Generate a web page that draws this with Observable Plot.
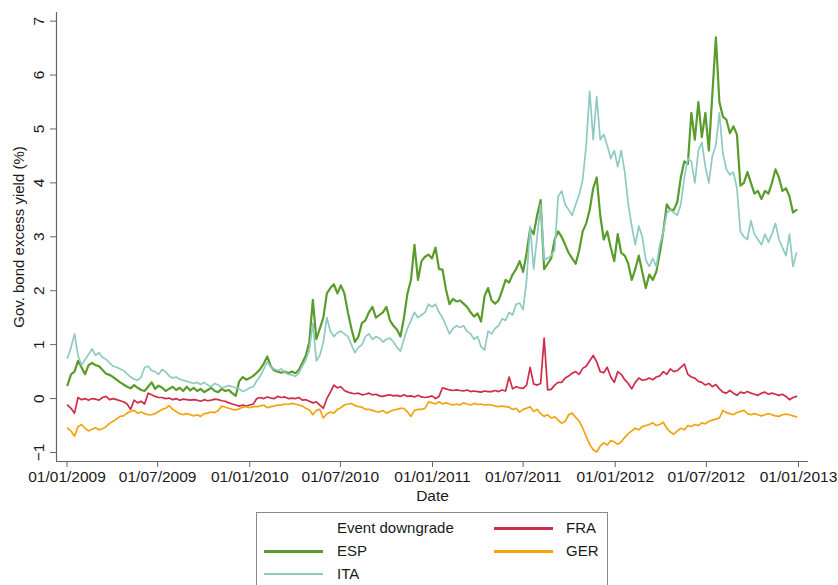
<!DOCTYPE html>
<html><head><meta charset="utf-8">
<script src="https://cdn.jsdelivr.net/npm/d3@7"></script>
<script src="https://cdn.jsdelivr.net/npm/@observablehq/plot@0.6"></script>
<style>
body{margin:0;background:#fff;font-family:"Liberation Sans",Arial,sans-serif;}
#chart{position:relative;width:838px;height:585px;overflow:hidden;background:#fff;}
.legend{position:absolute;left:256px;top:512px;width:352px;height:90px;border:1px solid #8a8a8a;box-sizing:border-box;}
.lab{position:absolute;font-size:15px;color:#1a1a1a;line-height:18px;transform:translateY(-50%);white-space:nowrap;}
.sw{position:absolute;width:59px;}
</style></head><body><div id="chart"></div>
<script>
// weekly observations starting 2009-01-02
const startDate = "2009-01-02";
const stepDays = 7;

const series = ["ESP", "ITA", "FRA", "GER"];
const seriesColors = ["#5a9c2c", "#8ecac0", "#cf2b4a", "#f4a20f"];
const seriesWidths = [2.2, 1.7, 1.7, 1.7];

const ESP = [
0.25,0.45,0.5,0.7,0.58,0.45,0.62,0.66,0.62,0.6,
0.53,0.46,0.44,0.4,0.35,0.3,0.26,0.22,0.19,0.25,
0.2,0.16,0.14,0.22,0.3,0.18,0.24,0.2,0.14,0.18,
0.22,0.16,0.2,0.14,0.22,0.15,0.2,0.14,0.18,0.12,
0.16,0.2,0.14,0.12,0.18,0.14,0.16,0.1,0.05,0.32,
0.4,0.35,0.38,
0.42,0.48,0.55,0.65,0.78,0.6,0.52,0.5,0.48,0.5,
0.47,0.5,0.47,0.53,0.66,0.8,1.05,1.83,1.1,1.3,
1.5,1.95,2.05,2.12,1.95,2.1,1.95,1.6,1.3,1.05,
1.15,1.4,1.45,1.6,1.7,1.5,1.55,1.6,1.7,1.45,
1.35,1.28,1.15,1.5,1.95,2.2,2.85,2.2,2.55,2.63,
2.67,2.6,
2.8,2.4,2.39,2.02,1.75,1.85,1.8,1.82,1.76,1.7,
1.6,1.52,1.58,1.43,1.9,2.05,1.82,1.76,1.82,2.0,
2.2,2.15,2.3,2.4,2.55,2.35,2.7,3.15,3.05,3.4,
3.68,2.4,2.5,2.6,2.95,3.1,3.0,2.85,2.7,2.6,
2.5,2.75,3.1,3.25,3.5,3.9,4.1,3.4,2.95,3.1,
2.8,2.55,
3.05,2.7,2.65,2.5,2.2,2.4,2.65,2.35,2.05,2.3,
2.2,2.35,2.7,3.1,3.6,3.5,3.5,3.65,4.1,4.4,
4.35,5.3,4.8,5.5,4.85,5.3,4.6,5.65,6.7,5.5,
5.23,5.17,4.92,5.05,4.9,3.95,4.0,4.2,4.0,3.8,
3.85,3.7,3.85,3.8,4.0,4.25,4.1,3.85,3.9,3.75,
3.45,3.5
];
const ITA = [
0.75,0.95,1.2,0.8,0.62,0.72,0.82,0.92,0.8,0.85,
0.76,0.73,0.66,0.6,0.58,0.55,0.52,0.46,0.4,0.36,
0.34,0.4,0.58,0.6,0.52,0.5,0.45,0.54,0.5,0.42,
0.38,0.4,0.36,0.34,0.32,0.3,0.28,0.3,0.26,0.3,
0.25,0.22,0.28,0.25,0.2,0.22,0.24,0.22,0.2,0.18,
0.13,0.16,0.2,
0.22,0.33,0.42,0.55,0.68,0.58,0.55,0.52,0.55,0.48,
0.45,0.44,0.41,0.47,0.6,0.72,0.9,1.4,0.7,0.8,
1.05,1.5,1.25,1.15,1.22,1.25,1.2,1.15,1.0,0.85,
0.95,1.0,1.15,1.2,1.1,1.15,1.12,1.05,1.1,1.12,
1.05,0.95,0.88,1.1,1.3,1.45,1.6,1.5,1.55,1.6,
1.75,1.7,
1.75,1.6,1.5,1.35,1.2,1.3,1.35,1.32,1.35,1.25,
1.2,1.1,1.15,0.96,0.9,1.25,1.2,1.3,1.35,1.48,
1.45,1.6,1.55,1.75,1.77,1.65,2.2,3.2,2.4,3.0,
3.6,2.57,2.6,2.65,2.75,3.75,3.85,3.6,3.5,3.4,
3.6,3.78,4.06,4.7,5.7,4.8,5.6,4.8,4.9,4.7,
4.45,4.6,
4.3,4.6,4.2,3.6,3.2,2.85,3.2,3.0,2.57,2.45,
2.6,2.45,2.85,3.1,3.44,3.5,3.45,3.4,3.6,4.1,
4.45,4.4,4.0,4.6,4.75,4.3,4.0,4.5,4.7,5.3,
4.55,4.25,4.15,4.2,3.9,3.1,3.0,2.95,3.3,3.05,
2.95,2.85,3.05,2.9,3.05,3.25,2.95,2.8,2.65,3.05,
2.45,2.7
];
const FRA = [
-0.12,-0.18,-0.27,0.02,-0.02,0.0,-0.03,0.0,-0.01,-0.03,
0.02,0.04,-0.02,0.0,-0.02,-0.04,-0.06,-0.1,-0.2,-0.03,
-0.08,-0.05,-0.1,0.1,0.07,0.04,0.02,0.02,0.0,0.01,
-0.02,0.0,-0.03,-0.01,-0.02,-0.03,-0.02,-0.03,-0.05,-0.02,
-0.04,-0.03,-0.01,-0.02,-0.04,-0.05,-0.08,-0.1,-0.12,-0.14,
-0.12,-0.14,-0.12,
-0.1,0.0,0.02,0.0,0.03,0.01,0.0,0.04,0.02,0.03,
0.0,0.01,0.0,0.02,-0.03,-0.02,-0.05,-0.08,-0.06,-0.12,
-0.18,0.0,0.12,0.25,0.2,0.22,0.15,0.12,0.1,0.09,
0.1,0.07,0.08,0.1,0.07,0.08,0.05,0.04,0.06,0.07,
0.05,0.06,0.04,0.07,0.04,0.05,0.03,0.06,0.03,0.02,
0.03,0.05,
0.0,0.04,0.2,0.18,0.16,0.15,0.16,0.15,0.14,0.16,
0.13,0.14,0.13,0.12,0.14,0.13,0.13,0.15,0.13,0.16,
0.14,0.4,0.18,0.22,0.2,0.19,0.25,0.58,0.27,0.25,
0.28,1.12,0.16,0.17,0.25,0.3,0.3,0.38,0.42,0.47,
0.5,0.45,0.56,0.6,0.7,0.8,0.68,0.5,0.48,0.58,
0.4,0.3,
0.5,0.45,0.35,0.28,0.18,0.3,0.38,0.34,0.35,0.38,
0.35,0.4,0.42,0.5,0.45,0.55,0.5,0.52,0.58,0.64,
0.45,0.4,0.38,0.32,0.3,0.25,0.28,0.22,0.26,0.18,
0.12,0.1,0.15,0.1,0.06,0.12,0.1,0.13,0.1,0.08,
0.06,0.1,0.12,0.08,0.1,0.08,0.06,0.08,0.04,-0.02,
0.02,0.04
];
const GER = [
-0.55,-0.6,-0.7,-0.52,-0.48,-0.55,-0.6,-0.57,-0.54,-0.58,
-0.56,-0.52,-0.46,-0.42,-0.38,-0.33,-0.32,-0.27,-0.24,-0.22,
-0.27,-0.25,-0.28,-0.3,-0.3,-0.28,-0.24,-0.2,-0.18,-0.13,
-0.2,-0.24,-0.28,-0.3,-0.28,-0.3,-0.32,-0.3,-0.33,-0.28,
-0.27,-0.25,-0.26,-0.22,-0.14,-0.16,-0.18,-0.2,-0.21,-0.19,
-0.16,-0.15,-0.17,
-0.15,-0.15,-0.14,-0.12,-0.17,-0.15,-0.14,-0.12,-0.12,-0.1,
-0.11,-0.09,-0.1,-0.12,-0.14,-0.18,-0.21,-0.3,-0.22,-0.2,
-0.36,-0.28,-0.25,-0.27,-0.2,-0.17,-0.12,-0.1,-0.09,-0.13,
-0.15,-0.16,-0.2,-0.2,-0.22,-0.24,-0.25,-0.22,-0.27,-0.24,
-0.21,-0.2,-0.18,-0.18,-0.25,-0.33,-0.22,-0.2,-0.2,-0.18,
-0.06,-0.08,
-0.1,-0.06,-0.1,-0.08,-0.1,-0.12,-0.1,-0.12,-0.08,-0.1,
-0.12,-0.09,-0.11,-0.1,-0.12,-0.11,-0.12,-0.14,-0.15,-0.14,
-0.15,-0.16,-0.2,-0.18,-0.25,-0.2,-0.18,-0.15,-0.24,-0.2,
-0.28,-0.33,-0.3,-0.36,-0.34,-0.4,-0.46,-0.42,-0.3,-0.27,
-0.35,-0.42,-0.55,-0.7,-0.85,-0.95,-0.99,-0.88,-0.82,-0.86,
-0.78,-0.8,
-0.85,-0.8,-0.72,-0.65,-0.6,-0.55,-0.58,-0.52,-0.5,-0.48,
-0.45,-0.5,-0.48,-0.44,-0.55,-0.62,-0.66,-0.6,-0.55,-0.58,
-0.5,-0.52,-0.48,-0.5,-0.45,-0.47,-0.42,-0.4,-0.38,-0.36,
-0.22,-0.26,-0.28,-0.3,-0.26,-0.24,-0.22,-0.28,-0.3,-0.28,
-0.3,-0.32,-0.3,-0.28,-0.3,-0.32,-0.33,-0.3,-0.29,-0.3,
-0.32,-0.34
];

const xTickLabels = ["01/01/2009","01/07/2009","01/01/2010","01/07/2010","01/01/2011","01/07/2011","01/01/2012","01/07/2012","01/01/2013"];
const yTicks = [-1, 0, 1, 2, 3, 4, 5, 6, 7];
const xDomain = ["2008-12-11", "2013-01-21"];
const yDomain = [-1.167, 7.16];
const xLabel = "Date";
const yLabel = "Gov. bond excess yield (%)";

const legendItems = ["Event downgrade", "FRA", "ESP", "GER", "ITA"];
const legendColors = {"Event downgrade": "none", ESP: "#5a9c2c", ITA: "#8ecac0", FRA: "#cf2b4a", GER: "#f4a20f"};
const legendWidths = {"Event downgrade": 0, ESP: 3, ITA: 2, FRA: 3, GER: 3};

const values = [ESP, ITA, FRA, GER];
const t0 = new Date(startDate + "T00:00:00Z");
const dates = ESP.map((_, i) => d3.utcDay.offset(t0, stepDays * i));
const parseDMY = d3.utcParse("%d/%m/%Y");
const xTicks = xTickLabels.map(parseDMY);
const xd = xDomain.map(s => new Date(s + "T00:00:00Z"));

const lineMarks = series.map((s, k) => Plot.line(
  values[k].map((v, i) => ({date: dates[i], value: v})),
  {x: "date", y: "value", stroke: seriesColors[k], strokeWidth: seriesWidths[k], strokeLinejoin: "round"}
));

const svg = Plot.plot({
  width: 838, height: 505,
  marginLeft: 56, marginRight: 30, marginTop: 12, marginBottom: 44,
  style: {fontFamily: "Liberation Sans, Arial, sans-serif", fontSize: "15px", color: "#1a1a1a", background: "#fff"},
  x: {type: "utc", domain: xd},
  y: {domain: yDomain},
  marks: [
    Plot.ruleX([xd[0]], {stroke: "#666", strokeWidth: 1.2}),
    Plot.ruleY([yDomain[0]], {stroke: "#666", strokeWidth: 1.2}),
    Plot.axisX({ticks: xTicks, tickFormat: d3.utcFormat("%d/%m/%Y"), tickSize: 6, tickPadding: 3, label: null, stroke: "#666", fontSize: 15.5}),
    Plot.axisY({ticks: yTicks, tickRotate: -90, tickSize: 6, tickPadding: 7, label: null, stroke: "#666", fontSize: 15.5}),
    ...lineMarks,
    Plot.text([xLabel], {frameAnchor: "bottom", lineAnchor: "middle", dy: 35, fontSize: 15.5, fill: "#1a1a1a"}),
    Plot.text([yLabel], {frameAnchor: "left", textAnchor: "middle", rotate: -90, dx: -37, fontSize: 15, fill: "#1a1a1a"})
  ]
});
const chart = document.getElementById("chart");
chart.appendChild(svg);

const lg = document.createElement("div");
lg.className = "legend";
legendItems.forEach((name, k) => {
  const col = k % 2, row = Math.floor(k / 2);
  const cy = 15 + row * 23;
  const lx = col === 0 ? 7 : 237;
  const tx = col === 0 ? 80 : 309;
  const sw = document.createElement("div");
  sw.className = "sw";
  sw.style.left = lx + "px";
  const w = legendWidths[name];
  sw.style.top = (cy - w / 2) + "px";
  sw.style.height = w + "px";
  sw.style.background = legendColors[name] === "none" ? "transparent" : legendColors[name];
  lg.appendChild(sw);
  const t = document.createElement("div");
  t.className = "lab";
  t.style.left = tx + "px";
  t.style.top = cy + "px";
  t.textContent = name;
  lg.appendChild(t);
});
chart.appendChild(lg);
</script>
</body></html>
